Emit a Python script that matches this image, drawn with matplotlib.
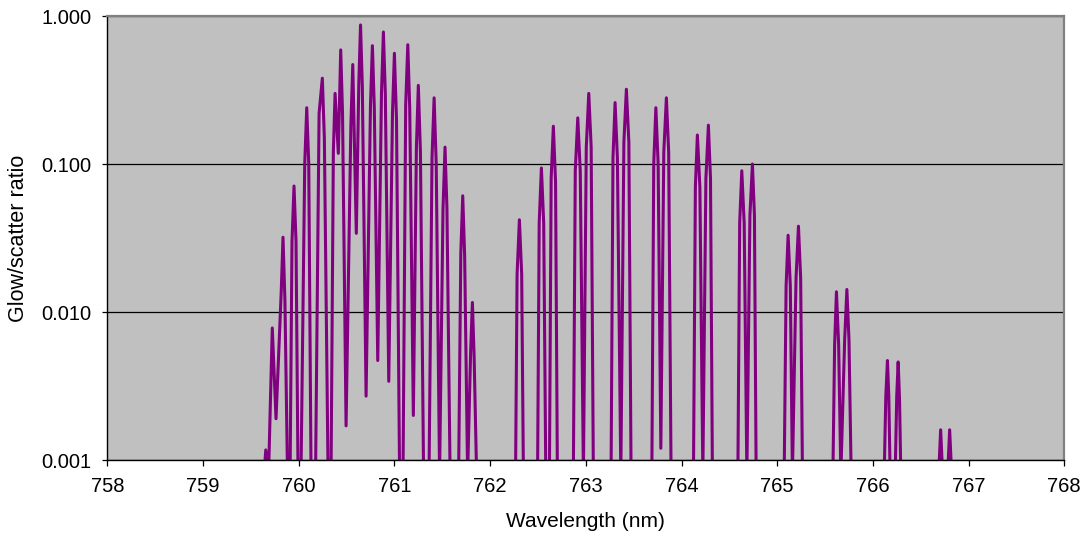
import matplotlib.pyplot as plt
from matplotlib.ticker import NullLocator

plt.rcParams['font.family'] = ['Liberation Sans', 'DejaVu Sans']

# wavelength (nm) and glow/scatter ratio, one line per band group.
# values under 0.001 sit below the axis and are clipped away
wavelength = [
    759.500, 759.638, 759.656, 759.685, 759.712, 759.724, 759.763, 759.818, 759.836,
    759.856, 759.883, 759.910, 759.930, 759.951, 759.972, 759.993, 760.024, 760.063,
    760.084, 760.105, 760.129, 760.176, 760.213, 760.247, 760.268, 760.307, 760.338,
    760.362, 760.380, 760.414, 760.439, 760.458, 760.495, 760.545, 760.565, 760.602,
    760.628, 760.646, 760.665, 760.704, 760.750, 760.770, 760.790, 760.826, 760.865,
    760.885, 760.905, 760.941, 760.980, 761.000, 761.022, 761.054, 761.090, 761.118,
    761.140, 761.160, 761.198, 761.230, 761.250, 761.272, 761.305, 761.362, 761.393,
    761.415, 761.437, 761.472, 761.508, 761.529, 761.549, 761.582, 761.671, 761.694,
    761.714, 761.734, 761.765, 761.797, 761.815, 761.833, 761.859,
    762.266, 762.282, 762.306, 762.330, 762.348, 762.496, 762.513, 762.536, 762.560,
    762.582, 762.620, 762.638, 762.661, 762.684, 762.703,
    762.870, 762.890, 762.916, 762.942, 762.975, 763.005, 763.031, 763.056, 763.079,
    763.264, 763.284, 763.306, 763.330, 763.366, 763.398, 763.424, 763.450, 763.473,
    763.690, 763.710, 763.732, 763.756, 763.784, 763.815, 763.842, 763.866, 763.891,
    764.125, 764.145, 764.166, 764.192, 764.223, 764.255, 764.281, 764.303, 764.323,
    764.589, 764.608, 764.630, 764.655, 764.683, 764.715, 764.741, 764.762, 764.780,
    765.073, 765.093, 765.114, 765.137, 765.159, 765.197, 765.222, 765.245, 765.264,
    765.582, 765.600, 765.619, 765.642, 765.665, 765.705, 765.728, 765.750, 765.773,
    766.118, 766.135, 766.152, 766.166, 766.180, 766.233, 766.249, 766.264, 766.278, 766.292,
    766.687, 766.708, 766.729, 766.781, 766.802, 766.823, 767.000,
]
ratio = [
    0.0005, 0.0008, 0.00117, 0.0008, 0.004, 0.0078, 0.0019, 0.014, 0.032,
    0.012, 0.0008, 0.0008, 0.030, 0.071, 0.030, 0.0008, 0.0008, 0.10,
    0.24, 0.10, 0.0008, 0.0008, 0.22, 0.38, 0.15, 0.0008, 0.0008,
    0.12, 0.30, 0.118, 0.59, 0.22, 0.0017, 0.18, 0.47, 0.034,
    0.35, 0.87, 0.33, 0.0027, 0.25, 0.63, 0.24, 0.0047, 0.30,
    0.78, 0.30, 0.0034, 0.22, 0.56, 0.20, 0.0008, 0.0008, 0.25,
    0.64, 0.24, 0.0020, 0.13, 0.34, 0.12, 0.0008, 0.0008, 0.11,
    0.28, 0.10, 0.0008, 0.050, 0.13, 0.050, 0.0008, 0.0008, 0.025,
    0.061, 0.024, 0.0008, 0.0055, 0.0116, 0.0050, 0.0008,
    0.0008, 0.018, 0.042, 0.018, 0.0008, 0.0008, 0.040, 0.094, 0.040,
    0.0008, 0.0008, 0.080, 0.18, 0.075, 0.0008,
    0.0008, 0.090, 0.205, 0.090, 0.0008, 0.13, 0.30, 0.13, 0.0008,
    0.0008, 0.11, 0.26, 0.11, 0.0008, 0.14, 0.32, 0.14, 0.0008,
    0.0008, 0.10, 0.24, 0.10, 0.0012, 0.12, 0.28, 0.12, 0.0008,
    0.0008, 0.070, 0.157, 0.070, 0.0008, 0.080, 0.183, 0.080, 0.0008,
    0.0008, 0.040, 0.090, 0.040, 0.0008, 0.045, 0.10, 0.045, 0.0008,
    0.0008, 0.015, 0.033, 0.015, 0.0008, 0.017, 0.038, 0.017, 0.0008,
    0.0008, 0.0060, 0.0137, 0.0060, 0.0008, 0.0065, 0.0142, 0.0065, 0.0008,
    0.0008, 0.0027, 0.0047, 0.0027, 0.0008, 0.0008, 0.0027, 0.0046, 0.0026, 0.0008,
    0.0008, 0.0016, 0.0008, 0.0008, 0.0016, 0.0008, 0.0005,
]

x_ticks = list(range(758, 769))
y_ticks = [0.001, 0.01, 0.1, 1.0]
y_tick_labels = ['0.001', '0.010', '0.100', '1.000']

fig = plt.figure(figsize=(10.86, 5.42), dpi=100)
ax = fig.add_axes([107.3 / 1086, 82 / 542, 957 / 1086, 444 / 542])
ax.set_facecolor('#C0C0C0')

ax.plot(wavelength, ratio, color='#800080', lw=2.2,
        solid_joinstyle='round', solid_capstyle='round')

ax.set_yscale('log')
ax.set_xlim(758, 768)
ax.set_ylim(0.001, 1.0)
ax.set_xticks(x_ticks)
ax.set_yticks(y_ticks)
ax.set_yticklabels(y_tick_labels)
ax.yaxis.set_minor_locator(NullLocator())

ax.set_axisbelow(True)
ax.grid(axis='y', color='black', lw=0.9)

for side in ['top', 'right']:
    ax.spines[side].set_color('#808080')
    ax.spines[side].set_linewidth(1.6)
for side in ['left', 'bottom']:
    ax.spines[side].set_color('black')
    ax.spines[side].set_linewidth(1.0)

ax.tick_params(axis='x', direction='out', length=4.5, width=0.9, pad=8, labelsize=14.5)
ax.tick_params(axis='y', direction='out', length=3.5, width=0.9, pad=8, labelsize=14.5)

ax.set_xlabel('Wavelength (nm)', fontsize=15)
ax.set_ylabel('Glow/scatter ratio', fontsize=15.5)
ax.xaxis.set_label_coords(0.5, -0.118)
ax.yaxis.set_label_coords(-0.082, 0.5)

fig.savefig('out.png', dpi=100)
